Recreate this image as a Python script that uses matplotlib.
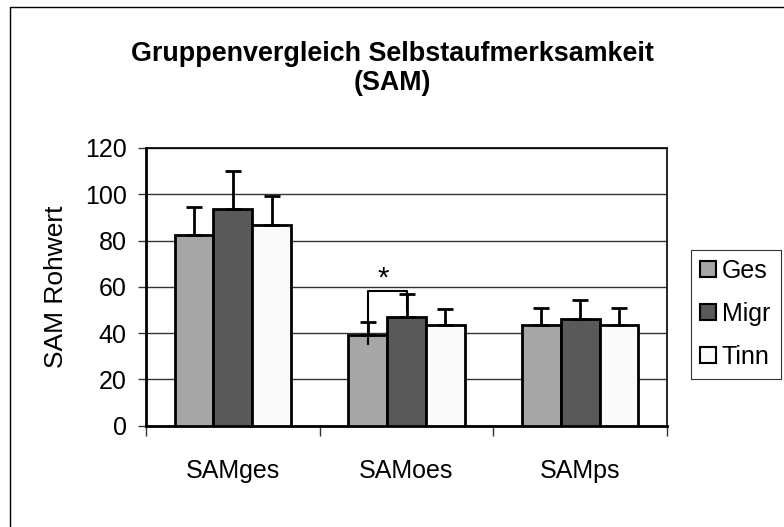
import matplotlib
matplotlib.use("Agg")
import matplotlib.pyplot as plt
from matplotlib.patches import Rectangle
from matplotlib.lines import Line2D
import numpy as np

plt.rcParams['font.family'] = ['Liberation Sans', 'DejaVu Sans']

categories = ["SAMges", "SAMoes", "SAMps"]
series = ["Ges", "Migr", "Tinn"]
ges = [82.5, 39.2, 43.5]
migr = [93.5, 47.1, 46.0]
tinn = [86.7, 43.5, 43.5]
ges_err = [11.8, 5.6, 7.5]
migr_err = [16.7, 9.8, 8.3]
tinn_err = [12.7, 6.8, 7.5]
yticks = [0, 20, 40, 60, 80, 100, 120]
sig_y = 58
colors = ["#a6a6a6", "#595959", "#fafafa"]

fig = plt.figure(figsize=(7.84, 5.27), dpi=100)
ax = fig.add_axes([146/784, 1-425.7/527, (667-146)/784, (425.7-148)/527])

x = np.arange(len(categories))
w = 0.2228
vals = [ges, migr, tinn]
errs = [ges_err, migr_err, tinn_err]
for i, (v, e, c, name) in enumerate(zip(vals, errs, colors, series)):
    xs = x + (i - 1) * w
    ax.bar(xs, v, width=w, color=c, edgecolor="black", linewidth=2, label=name, zorder=3)
    ax.errorbar(xs, v, yerr=[np.zeros(len(v)), e], fmt="none", ecolor="black",
                elinewidth=2, capsize=6, capthick=2, zorder=4)

# significance bracket between Ges and Migr in SAMoes
x1 = x[1] - w
x2 = x[1]
ax.plot([x1, x1, x2, x2], [35.3, sig_y, sig_y, 50], color="black", lw=1.5, zorder=5)
ax.text((x1 + x2) / 2 - 0.025, sig_y - 0.5, "*", ha="center", va="bottom", fontsize=21, zorder=5)

fs = 18
ax.set_xlim(-0.5, 2.5)
ax.set_ylim(0, 120)
ax.set_yticks(yticks)
ax.set_yticklabels([str(t) for t in yticks], fontsize=fs)
ax.set_xticks([-0.5, 0.5, 1.5, 2.5])
ax.set_xticklabels([])
ax.set_xticks(x, minor=True)
ax.set_xticklabels(categories, minor=True, fontsize=fs)
ax.tick_params(axis="x", which="minor", length=0, pad=24)
ax.tick_params(axis="x", which="major", length=7, width=1, color="#333333")
ax.tick_params(axis="y", length=6, width=1, pad=8, color="#333333")
ax.yaxis.grid(True, color="#333333", lw=1, zorder=0)
ax.set_axisbelow(True)
for s in ["left", "bottom"]:
    ax.spines[s].set_linewidth(2)
for s in ["top", "right"]:
    ax.spines[s].set_linewidth(1.2)
ax.set_ylabel("SAM Rohwert", fontsize=19, labelpad=12)

fig.suptitle("Gruppenvergleich Selbstaufmerksamkeit\n(SAM)", fontsize=19.4,
             fontweight="bold", x=0.5, y=1-41/527, va="top", linespacing=1.15)

leg = fig.legend(loc="upper left", bbox_to_anchor=(695/784, 1-254/527), fontsize=fs,
                 frameon=False, borderpad=0.2,
                 labelspacing=0.75, handlelength=0.62, handleheight=0.62,
                 handletextpad=0.25, borderaxespad=0)
for h in leg.legend_handles:
    h.set_linewidth(1.5)
fig.patches.append(Rectangle((691/784, 1-379/527), 90/784, 129/527, transform=fig.transFigure,
                             fill=False, edgecolor="#333333", lw=0.8))

# outer chart-area border (only left and top visible in the reference)
fig.lines.append(Line2D([10/784, 10/784, 1.0], [0.0, 1-7/527, 1-7/527],
                        transform=fig.transFigure, color="black", lw=1))

fig.savefig("out.png", dpi=100)
